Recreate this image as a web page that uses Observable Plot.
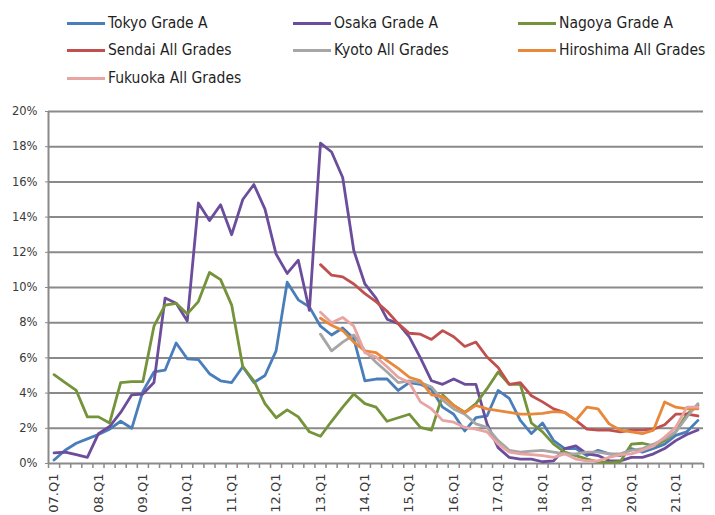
<!DOCTYPE html>
<html>
<head>
<meta charset="utf-8">
<script src="https://cdn.jsdelivr.net/npm/d3@7"></script>
<script src="https://cdn.jsdelivr.net/npm/@observablehq/plot@0.6"></script>
<style>
  html, body { margin: 0; padding: 0; background: #fff; overflow: hidden; }
  #legend { position: relative; width: 715px; height: 95px; font-family: "DejaVu Sans Condensed", "DejaVu Sans", sans-serif; font-stretch: condensed; font-size: 15.5px; color: #1f1f1f; }
  .item { position: absolute; display: flex; align-items: center; white-space: nowrap; height: 22px; line-height: 22px; }
  .sw { width: 38px; height: 3px; margin-right: 3px; }
</style>
</head>
<body>
<div id="legend"></div>
<div id="chart"></div>
<script>
// Vacancy rates by city, quarterly from 2007 Q1 to 2021 Q3 (percent)
const years = ["07","08","09","10","11","12","13","14","15","16","17","18","19","20","21"];
const quarterCount = 59;
const tickLabels = ["07.Q1","08.Q1","09.Q1","10.Q1","11.Q1","12.Q1","13.Q1","14.Q1","15.Q1","16.Q1","17.Q1","18.Q1","19.Q1","20.Q1","21.Q1"];
const yTicks = [0, 2, 4, 6, 8, 10, 12, 14, 16, 18, 20];

const cities = ["Tokyo Grade A","Osaka Grade A","Nagoya Grade A","Sendai All Grades","Kyoto All Grades","Hiroshima All Grades","Fukuoka All Grades"];
const colors = ["#4a7ebb","#6c4d9c","#74933a","#c0504d","#a6a6a6","#e8883a","#e8a4a2"];

const tokyo = [0.2,0.75,1.15,1.4,1.65,1.95,2.4,2.0,4.1,5.2,5.3,6.85,5.95,5.9,5.1,4.7,4.6,5.5,4.6,5.0,6.4,10.3,9.3,8.9,7.8,7.3,7.7,7.1,4.7,4.8,4.8,4.15,4.6,4.5,4.2,3.2,2.8,1.85,2.6,2.7,4.15,3.7,2.45,1.7,2.3,1.3,0.85,0.85,0.45,0.75,0.55,0.45,0.85,0.65,0.85,1.1,1.6,1.8,2.45];
const osaka = [0.6,0.65,0.5,0.35,1.7,2.1,2.9,3.9,3.95,4.6,9.4,9.1,8.1,14.8,13.8,14.7,13.0,15.0,15.85,14.45,11.9,10.8,11.55,8.7,18.2,17.7,16.25,12.1,10.2,9.4,8.2,7.95,7.2,6.0,4.7,4.5,4.8,4.5,4.5,2.25,0.9,0.35,0.25,0.25,0.1,0.15,0.85,1.0,0.55,0.45,0.15,0.15,0.35,0.35,0.55,0.85,1.3,1.65,1.9];
const nagoya = [5.05,4.6,4.15,2.65,2.65,2.3,4.6,4.65,4.65,7.8,9.0,9.1,8.5,9.2,10.85,10.45,9.0,5.5,4.7,3.4,2.6,3.05,2.65,1.8,1.55,2.4,3.2,3.95,3.4,3.2,2.4,2.6,2.8,2.05,1.9,3.9,3.3,2.9,3.4,4.25,5.2,4.5,4.5,2.3,1.8,1.1,0.65,0.45,0.25,0.1,0.05,0.1,1.1,1.15,1.0,1.3,1.8,2.8,3.3];
// The remaining cities are reported from 2013 Q1 (quarter index 24)
const lateStart = 24;
const sendai = [11.3,10.7,10.6,10.2,9.65,9.2,8.65,7.95,7.4,7.35,7.05,7.55,7.2,6.65,6.9,6.05,5.45,4.5,4.6,3.85,3.5,3.1,2.9,2.45,1.95,1.9,1.9,1.8,1.9,1.9,1.95,2.2,2.8,2.8,2.7];
const kyoto = [7.35,6.4,6.9,7.3,6.4,5.75,5.2,4.6,4.7,4.6,4.35,3.6,3.1,2.8,2.25,2.05,1.3,0.75,0.65,0.7,0.75,0.65,0.55,0.55,0.65,0.65,0.55,0.55,0.75,0.85,1.1,1.4,1.8,2.65,3.4];
const hiroshima = [8.25,7.85,7.55,6.9,6.4,6.3,5.85,5.4,4.9,4.7,3.9,3.8,3.3,2.9,3.3,3.1,3.0,2.9,2.8,2.8,2.85,2.95,2.9,2.45,3.2,3.1,2.25,1.9,1.8,1.7,1.9,3.5,3.2,3.1,3.1];
const fukuoka = [8.6,8.0,8.3,7.8,6.3,6.05,5.5,4.9,4.6,3.5,3.1,2.45,2.35,2.05,1.95,1.8,1.1,0.65,0.55,0.5,0.45,0.35,0.55,0.25,0.15,0.15,0.35,0.5,0.55,0.75,1.0,1.5,2.05,3.2,3.2];

const quarterLabels = years.flatMap(y => ["Q1","Q2","Q3","Q4"].map(q => `${y}.${q}`)).slice(0, quarterCount);
const labelIndex = tickLabels.map(t => quarterLabels.indexOf(t));

const seriesList = [
  {city: cities[0], values: tokyo, start: 0},
  {city: cities[1], values: osaka, start: 0},
  {city: cities[2], values: nagoya, start: 0},
  {city: cities[3], values: sendai, start: lateStart},
  {city: cities[4], values: kyoto, start: lateStart},
  {city: cities[5], values: hiroshima, start: lateStart},
  {city: cities[6], values: fukuoka, start: lateStart}
];
const rows = seriesList.flatMap(s => s.values.map((v, k) => ({city: s.city, q: s.start + k, rate: v})));

// Legend in three columns
const legend = document.getElementById("legend");
const colX = [67, 293, 518];
const rowY = [12, 39, 67];
cities.forEach((c, k) => {
  const item = document.createElement("div");
  item.className = "item";
  item.style.left = colX[k % 3] + "px";
  item.style.top = rowY[Math.floor(k / 3)] + "px";
  const sw = document.createElement("span");
  sw.className = "sw";
  sw.style.background = colors[k];
  const label = document.createElement("span");
  label.textContent = c;
  item.append(sw, label);
  legend.append(item);
});

const gridColor = "#8a8a8a";
const chart = Plot.plot({
  width: 715,
  height: 420,
  marginTop: 16,
  marginBottom: 52,
  marginLeft: 48,
  marginRight: 12,
  style: {fontFamily: "'DejaVu Sans', sans-serif", fontSize: "11.5px", color: "#3a3a3a", background: "#fff"},
  x: {domain: [-0.5, quarterCount - 0.5]},
  y: {domain: [0, 20]},
  color: {domain: cities, range: colors},
  marks: [
    Plot.ruleY(yTicks, {stroke: gridColor, strokeWidth: 2}),
    Plot.ruleX([-0.5], {y1: 0, y2: 20, stroke: gridColor, strokeWidth: 2}),
    Plot.axisY({ticks: yTicks, tickFormat: d => d + "%", tickSize: 3, tickPadding: 8, stroke: gridColor, label: null}),
    Plot.axisX({ticks: d3.range(-0.5, quarterCount, 1), tickFormat: () => "", tickSize: 5, stroke: gridColor, strokeWidth: 1.5, label: null}),
    Plot.axisX({ticks: labelIndex, tickFormat: i => quarterLabels[i], tickSize: 0, tickPadding: 10, tickRotate: -90, fontSize: 13, label: null}),
    Plot.line(rows, {x: "q", y: "rate", z: "city", stroke: "city", strokeWidth: 2.8, strokeLinejoin: "round"})
  ]
});
document.getElementById("chart").append(chart);
</script>
</body>
</html>
